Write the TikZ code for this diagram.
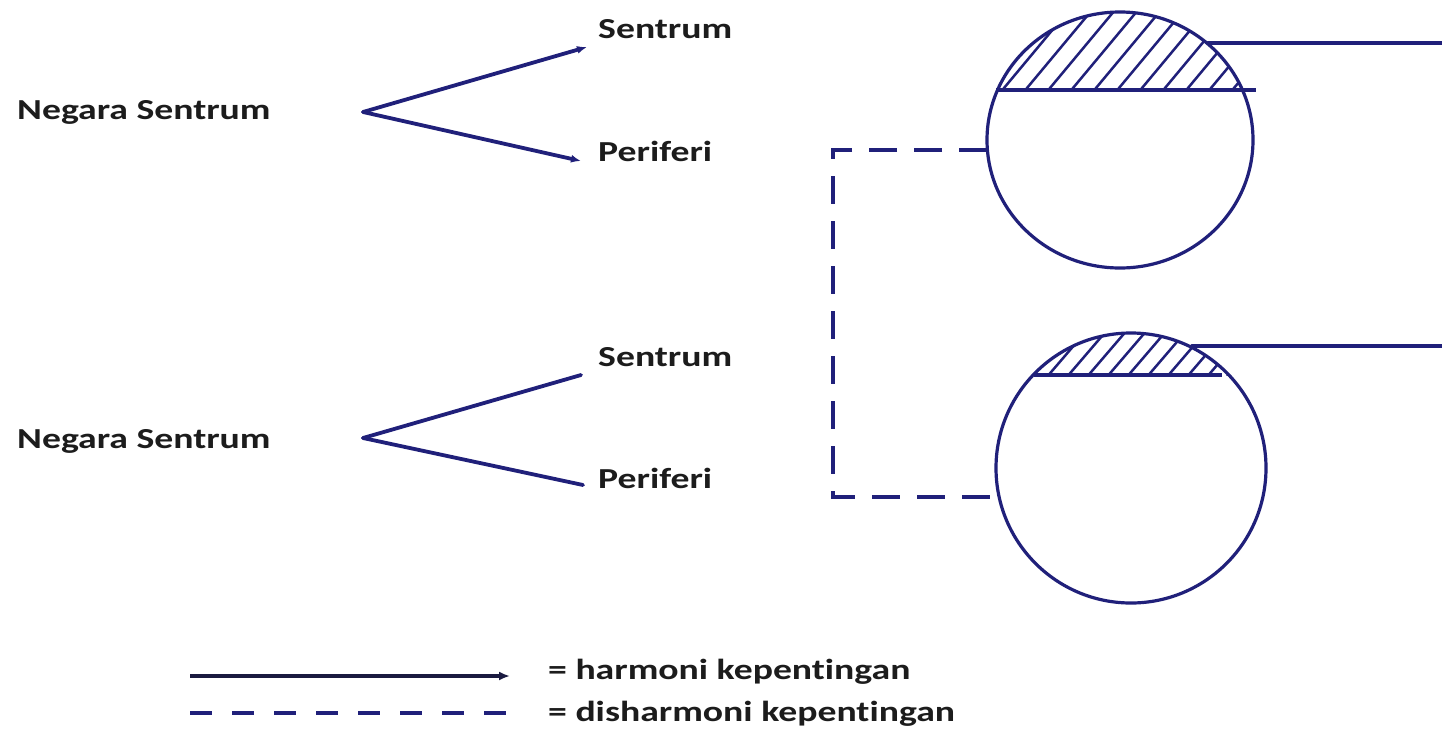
\documentclass[tikz,border=0pt]{standalone}
\usepackage{fontspec}
\newfontfamily\lblfont{Carlito}[FakeStretch=1.3, Ligatures=NoCommon]
\usetikzlibrary{arrows.meta}
\definecolor{ink}{HTML}{20207A}
\definecolor{txt}{HTML}{1C1C1C}
\definecolor{dark}{HTML}{1A1A40}
\begin{document}
\begin{tikzpicture}[x=1pt,y=-1pt,
  lbl/.style={font=\lblfont\bfseries\fontsize{29}{31}\selectfont, text=txt, inner sep=0pt, anchor=base west},
  conn/.style={draw=ink, line width=3.8pt, line cap=round},
  tipconn/.style={conn, -{Latex[length=10pt,width=8pt]}},
  dconn/.style={draw=ink, line width=4.2pt, dash pattern=on 28pt off 17pt},
  ring/.style={draw=ink, line width=3.2pt},
  hatch/.style={draw=ink, line width=2.5pt}]
\useasboundingbox (0,0) rectangle (1442,734);
\fill[white] (0,0) rectangle (1442,734);

% ---- top group
\node[lbl] (n1) at (17,119) {Negara Sentrum};
\node[lbl] (s1) at (598,38) {Sentrum};
\node[lbl] (p1) at (598,161) {Periferi};
\coordinate (v1) at (363,112);
\coordinate (s1e) at (587,47);
\coordinate (p1e) at (581,161);
\draw[tipconn] (v1) -- (s1e);
\draw[tipconn] (v1) -- (p1e);

% ---- bottom group
\node[lbl] (n2) at (17,448) {Negara Sentrum};
\node[lbl] (s2) at (598,366) {Sentrum};
\node[lbl] (p2) at (598,488) {Periferi};
\coordinate (v2) at (363,438);
\coordinate (s2e) at (581,375);
\coordinate (p2e) at (583,485);
\draw[conn] (v2) -- (s2e);
\draw[conn] (v2) -- (p2e);

% ---- top circle
\coordinate (c1) at (1120,140);
\begin{scope}
  \clip (c1) ellipse [x radius=133pt, y radius=128pt];
  \clip (900,0) rectangle (1300,90);
  \foreach \i in {0,...,18} \draw[hatch] ({925+\i*23},100) -- ++(100,-120);
\end{scope}
\draw[ring] (c1) ellipse [x radius=133pt, y radius=128pt];
\draw[ring] (996,90) -- (1256,90);
\coordinate (t1) at (1208,43);
\coordinate (e1) at (1442,43);
\draw[conn] (t1) -- (e1);

% ---- bottom circle
\coordinate (c2) at (1131,468);
\begin{scope}
  \clip (c2) ellipse [x radius=135pt, y radius=135pt];
  \clip (900,300) rectangle (1300,375);
  \foreach \i in {0,...,14} \draw[hatch] ({1000+\i*20},385) -- ++(60,-70);
\end{scope}
\draw[ring] (c2) ellipse [x radius=135pt, y radius=135pt];
\draw[ring] (1034,375) -- (1222,375);
\coordinate (t2) at (1192,346);
\coordinate (e2) at (1442,346);
\draw[conn] (t2) -- (e2);

% ---- dashed link between circles
\coordinate (L1) at (987,150);
\coordinate (k1) at (833,150);
\coordinate (k2) at (833,497);
\coordinate (L2) at (1000,497);
\draw[dconn] (L1) -- (k1) -- (k2) -- (L2);

% ---- legend
\coordinate (ha) at (190,676);
\coordinate (hb) at (510,676);
\coordinate (da) at (190,713);
\coordinate (db) at (524,713);
\draw[draw=dark, line width=4.2pt, -{Latex[length=11pt,width=9pt]}] (ha) -- (hb);
\draw[draw=ink, line width=4.2pt, dash pattern=on 22pt off 20pt] (da) -- (db);
\node[lbl] (lh) at (548,679) {= harmoni kepentingan};
\node[lbl] (ld) at (548,721) {= disharmoni kepentingan};
\end{tikzpicture}
\end{document}
